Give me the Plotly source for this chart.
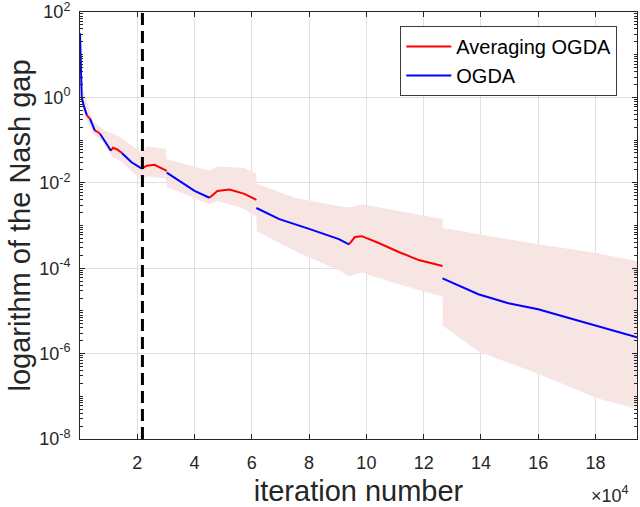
import plotly.graph_objects as go

# iteration numbers in units of 1e4, values as log10 of the Nash gap
ogda_x = [
    [0.0, 0.03, 0.06, 0.13, 0.2, 0.24],
    [0.35, 0.44, 0.52],
    [0.7, 0.85, 1.0, 1.08],
    [1.46, 1.8, 2.16],
    [3.03, 3.48, 4.0, 4.52],
    [6.16, 6.96, 8.0, 9.04, 9.39],
    [12.66, 13.91, 14.96, 16.0, 17.04, 18.09, 19.45],
]
ogda_log = [
    [1.5, 0.87, 0.0, -0.19, -0.38, -0.42],
    [-0.5, -0.64, -0.78],
    [-0.85, -1.02, -1.17, -1.25],
    [-1.3, -1.52, -1.67],
    [-1.76, -1.95, -2.19, -2.35],
    [-2.59, -2.85, -3.08, -3.32, -3.44],
    [-4.24, -4.61, -4.82, -4.96, -5.16, -5.36, -5.62],
]
avg_x = [
    [0.24, 0.3, 0.35],
    [0.52, 0.6, 0.7],
    [1.08, 1.15, 1.3, 1.46],
    [2.16, 2.33, 2.6, 3.03],
    [4.52, 4.8, 5.22, 5.74, 6.16],
    [9.39, 9.6, 9.84, 10.43, 11.13, 11.83, 12.66],
]
avg_log = [
    [-0.42, -0.46, -0.5],
    [-0.78, -0.8, -0.85],
    [-1.25, -1.18, -1.22, -1.3],
    [-1.67, -1.6, -1.58, -1.72],
    [-2.35, -2.19, -2.16, -2.26, -2.4],
    [-3.44, -3.27, -3.25, -3.41, -3.62, -3.81, -3.95],
]

# shaded spread around the curves
band_x = [0.0, 0.1, 0.45, 0.8, 1.15, 1.45, 2.16, 2.33, 3.0, 3.03, 4.52, 4.8, 5.7, 6.16, 6.17,
          7.5, 9.04, 9.4, 9.84, 11.0, 12.66, 12.67, 13.91, 16.0, 18.09, 19.45]
band_hi = [1.7, 0.2, -0.55, -0.75, -0.85, -0.95, -1.3, -1.15, -1.2, -1.45, -1.72, -1.62, -1.65, -1.78, -2.02,
           -2.35, -2.55, -2.58, -2.5, -2.65, -2.85, -3.06, -3.2, -3.44, -3.65, -3.84]
band_lo = [1.3, -0.3, -0.85, -1.05, -1.4, -1.5, -1.95, -1.85, -1.9, -2.1, -2.5, -2.42, -2.6, -2.8, -3.13,
           -3.6, -4.05, -4.19, -4.1, -4.35, -4.66, -5.35, -5.95, -6.47, -7.05, -7.3]

switch_iter = 2.18
x_ticks = [2, 4, 6, 8, 10, 12, 14, 16, 18]
y_exps = [2, 0, -2, -4, -6, -8]

FONT = "Liberation Sans, Arial, sans-serif"
INK = 'rgb(38,38,38)'

def pw(v):
    return [10 ** e for e in v]

# matlab style minor ticks on the log axis
minor_vals = [k * 10 ** e for e in range(-8, 2) for k in range(1, 10) if not (k == 1 and e % 2 == 0)]

fig = go.Figure()

fig.add_trace(go.Scatter(x=band_x, y=pw(band_hi), mode='lines', line=dict(width=0),
                         showlegend=False, hoverinfo='skip'))
fig.add_trace(go.Scatter(x=band_x, y=pw(band_lo), mode='lines', line=dict(width=0),
                         fill='tonexty', fillcolor='rgb(246,229,227)',
                         showlegend=False, hoverinfo='skip'))

for i, (xs, ys) in enumerate(zip(avg_x, avg_log)):
    fig.add_trace(go.Scatter(x=xs, y=pw(ys), mode='lines', name='Averaging OGDA',
                             line=dict(color='rgb(255,0,0)', width=2),
                             legendgroup='avg', showlegend=(i == 0)))
for i, (xs, ys) in enumerate(zip(ogda_x, ogda_log)):
    fig.add_trace(go.Scatter(x=xs, y=pw(ys), mode='lines', name='OGDA',
                             line=dict(color='rgb(0,0,255)', width=2),
                             legendgroup='ogda', showlegend=(i == 0)))

fig.add_vline(x=switch_iter, line=dict(color='black', width=3, dash='12px,6px'))

fig.update_xaxes(range=[0, 19.45], tickvals=x_ticks, ticktext=[str(t) for t in x_ticks],
                 showgrid=True, gridcolor='rgb(224,224,224)', zeroline=False,
                 showline=True, linecolor=INK, linewidth=1, mirror='ticks',
                 ticks='inside', ticklen=5, tickcolor=INK, automargin=False,
                 ticklabelstandoff=7, ticklabeloverflow='allow',
                 tickfont=dict(family=FONT, size=18, color=INK),
                 title=dict(text='iteration number', font=dict(family=FONT, size=29, color=INK),
                            standoff=12))
fig.update_yaxes(type='log', range=[-8, 2], tickvals=[10 ** e for e in y_exps],
                 ticktext=['10<sup>%d</sup>' % e for e in y_exps],
                 showgrid=True, gridcolor='rgb(224,224,224)', zeroline=False,
                 showline=True, linecolor=INK, linewidth=1, mirror='ticks',
                 ticks='inside', ticklen=5, tickcolor=INK, automargin=False,
                 ticklabelstandoff=5, ticklabeloverflow='allow',
                 minor=dict(tickvals=minor_vals, ticks='inside', ticklen=3, tickcolor=INK, showgrid=False),
                 tickfont=dict(family=FONT, size=18, color=INK),
                 title=dict(text='logarithm of the Nash gap', font=dict(family=FONT, size=29, color=INK),
                            standoff=0))

fig.add_annotation(text='\u00d710<sup>4</sup>', xref='paper', yref='paper', x=1.0, y=-0.131,
                   xanchor='right', yanchor='middle', xshift=-6, showarrow=False,
                   font=dict(family=FONT, size=18, color=INK))

fig.update_layout(
    width=640, height=507,
    margin=dict(l=80, r=3, t=12, b=68),
    paper_bgcolor='white', plot_bgcolor='white',
    legend=dict(x=0.575, y=0.967, xanchor='left', yanchor='top',
                bgcolor='white', bordercolor='rgb(60,60,60)', borderwidth=1,
                font=dict(family=FONT, size=20, color='black'),
                tracegroupgap=0, itemwidth=45),
)

# drop the default page margin so the figure sits at the window corner
fig.write_html("out.html", config={'displayModeBar': False},
               post_script="document.body.style.margin='0';")
